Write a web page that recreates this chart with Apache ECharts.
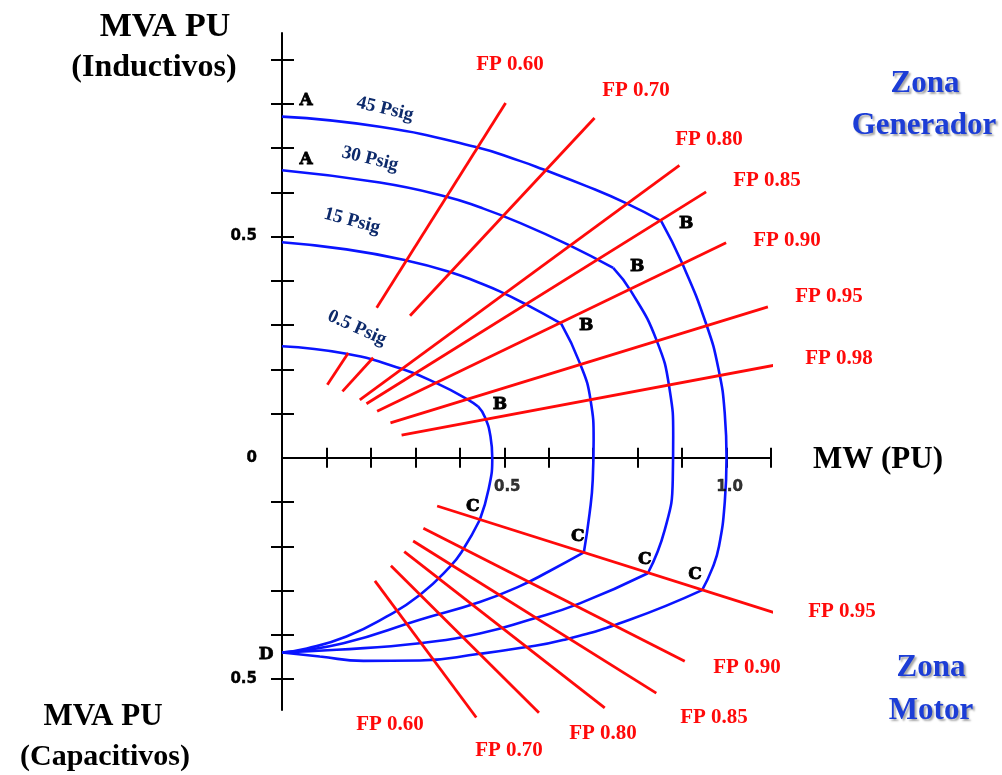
<!DOCTYPE html>
<html><head><meta charset="utf-8">
<script src="https://cdn.jsdelivr.net/npm/echarts@6/dist/echarts.min.js"></script>
<style>html,body{margin:0;padding:0;background:#fff}#c{width:1002px;height:775px}</style>
</head><body><div id="c"></div>
<script>
// ---------- axis ticks and labels ----------
const xTicks = [0.1,0.2,0.3,0.4,0.5,0.6,0.7,0.8,0.9,1.0,1.1];
const xLabels = [0.5, 1.0];
const yTicks = [-0.5,-0.4,-0.3,-0.2,-0.1,0.1,0.2,0.3,0.4,0.5,0.6,0.7,0.8,0.9];
const yLabels = [-0.5, 0, 0.5];

// ---------- capability curves (MW, MVAr in PU) ----------
// 45 Psig
const field45 = [[0,0.771],[0.22,0.748],[0.434,0.703],[0.535,0.671],[0.587,0.652],[0.685,0.614],[0.775,0.575],[0.853,0.535]];
const armature45 = [[0.853,0.535],[0.9,0.44],[0.955,0.3],[0.982,0.2],[0.996,0.1],[1.0,0],[0.996,-0.1],[0.983,-0.2],[0.968,-0.25],[0.945,-0.299]];
const under45 = [[0.945,-0.299],[0.782,-0.366],[0.632,-0.412],[0.535,-0.430],[0.445,-0.443],[0.31,-0.458],[0.183,-0.459],[0.085,-0.449],[0,-0.440]];
// 30 Psig
const field30 = [[0,0.650],[0.22,0.622],[0.37,0.590],[0.445,0.566],[0.535,0.531],[0.647,0.480],[0.745,0.429]];
const armature30 = [[0.745,0.429],[0.786,0.375],[0.842,0.267],[0.872,0.154],[0.880,0.05],[0.879,-0.05],[0.861,-0.163],[0.823,-0.261]];
const under30 = [[0.823,-0.261],[0.670,-0.329],[0.557,-0.366],[0.445,-0.397],[0.31,-0.419],[0.123,-0.434],[0,-0.440]];
// 15 Psig
const field15 = [[0,0.487],[0.145,0.471],[0.28,0.446],[0.381,0.419],[0.445,0.395],[0.49,0.376],[0.55,0.346],[0.628,0.303]];
const armature15 = [[0.628,0.303],[0.670,0.214],[0.694,0.131],[0.701,0.04],[0.699,-0.05],[0.692,-0.125],[0.679,-0.214]];
const under15 = [[0.679,-0.214],[0.6,-0.257],[0.535,-0.29],[0.445,-0.326],[0.31,-0.366],[0.138,-0.419],[0,-0.440]];
// 0.5 Psig
const field05 = [[0,0.252],[0.145,0.235],[0.269,0.201],[0.351,0.167],[0.419,0.131],[0.441,0.116]];
const armature05 = [[0.441,0.116],[0.456,0.093],[0.469,0.048],[0.473,0],[0.465,-0.07],[0.445,-0.140]];
const under05 = [[0.445,-0.140],[0.407,-0.208],[0.378,-0.246],[0.310,-0.310],[0.235,-0.359],[0.145,-0.404],[0.056,-0.431],[0,-0.440]];

// ---------- power factor lines ----------
const genFP60 = [[[0.102,0.165],[0.149,0.237]],[[0.213,0.339],[0.503,0.802]]];
const genFP70 = [[[0.136,0.150],[0.205,0.226]],[[0.288,0.321],[0.703,0.768]]];
const genFP80 = [[[0.175,0.131],[0.894,0.661]]];
const genFP85 = [[[0.190,0.122],[0.954,0.601]]];
const genFP90 = [[[0.214,0.105],[0.999,0.486]]];
const genFP95 = [[[0.244,0.079],[1.093,0.341]]];
const genFP98 = [[[0.269,0.051],[1.112,0.210]]];
const motFP95 = [[[0.349,-0.109],[1.123,-0.355]]];
const motFP90 = [[[0.318,-0.159],[0.906,-0.460]]];
const motFP85 = [[[0.295,-0.188],[0.842,-0.532]]];
const motFP80 = [[[0.275,-0.212],[0.726,-0.565]]];
const motFP70 = [[[0.245,-0.244],[0.578,-0.576]]];
const motFP60 = [[[0.209,-0.278],[0.437,-0.587]]];

// ---------- build ----------
const chart = echarts.init(document.getElementById('c'), null, {renderer:'canvas'});
const BLUE = '#0a14ff', RED = '#ff0a0a';
const series = [];
[field45,armature45,under45,field30,armature30,under30,field15,armature15,under15,field05,armature05,under05].forEach(d=>{
  series.push({type:'line', data:d, smooth:0.5, symbol:'none', clip:false, silent:true, z:3,
    lineStyle:{color:BLUE, width:2.6}});
});
[genFP60,genFP70,genFP80,genFP85,genFP90,genFP95,genFP98,motFP95,motFP90,motFP85,motFP80,motFP70,motFP60].forEach(segs=>{
  segs.forEach(seg=>series.push({type:'line', data:seg, symbol:'none', clip:false, silent:true, z:4,
    lineStyle:{color:RED, width:2.8}}));
});
// point letters tied to curve ends
const pts = [
  {name:'A', value:field45[0], off:[24,-16]},
  {name:'A', value:field30[0], off:[24,-11]},
  {name:'B', value:field45[field45.length-1], off:[25,3]},
  {name:'B', value:field30[field30.length-1], off:[24,-1]},
  {name:'B', value:field15[field15.length-1], off:[25,2]},
  {name:'B', value:field05[field05.length-1], off:[22,-2]},
  {name:'C', value:armature45[armature45.length-1], off:[-7,-16]},
  {name:'C', value:armature30[armature30.length-1], off:[-3,-14]},
  {name:'C', value:armature15[armature15.length-1], off:[-6,-16]},
  {name:'C', value:armature05[armature05.length-1], off:[-7,-13]},
  {name:'D', value:under45[under45.length-1], off:[-16,2]}
];
series.push({type:'scatter', symbolSize:1, silent:true, z:6, clip:false,
  itemStyle:{color:'rgba(0,0,0,0)'},
  data: pts.map(p=>({name:p.name, value:p.value,
    label:{show:true, formatter:'{b}', position:'inside', offset:p.off,
      color:'#000', opacity:1, fontFamily:'DejaVu Serif', fontWeight:'bold', fontSize:17,
      textBorderColor:'#000', textBorderWidth:0.8}}))
});
const axisFont = {fontFamily:'DejaVu Sans', fontWeight:'bold', fontSize:15, color:'#000'};
// x tick labels sitting under the zero line
series.push({type:'scatter', symbolSize:1, silent:true, z:5, clip:false,
  itemStyle:{color:'rgba(0,0,0,0)'},
  data: xLabels.map(v=>({value:[v,0], label:Object.assign({show:true, position:'inside', offset:[3,29],
    formatter:v.toFixed(1), textBorderColor:'#000', textBorderWidth:0.4}, axisFont)}))
});

const serif = '"Liberation Serif","Times New Roman",serif';
function txt(s, x, y, size, color, extra){
  return Object.assign({type:'text', x:x, y:y, silent:true, z:10,
    style:{text:s, fill:color, font:'bold '+size+'px '+serif, align:'center', verticalAlign:'middle'}}, extra||{});
}
const graphics = [
  txt('MVA PU', 165, 27, 34, '#000'),
  txt('(Inductivos)', 154, 68, 32, '#000'),
  txt('MVA PU', 103, 717, 31, '#000'),
  txt('(Capacitivos)', 105, 757, 30, '#000'),
  txt('MW (PU)', 878, 460, 31, '#000'),
  // FP labels generator zone
  txt('FP 0.60', 510, 65, 21, RED),
  txt('FP 0.70', 636, 91, 21, RED),
  txt('FP 0.80', 709, 140, 21, RED),
  txt('FP 0.85', 767, 181, 21, RED),
  txt('FP 0.90', 787, 241, 21, RED),
  txt('FP 0.95', 829, 297, 21, RED),
  txt('FP 0.98', 839, 359, 21, RED),
  // FP labels motor zone
  txt('FP 0.95', 842, 612, 21, RED),
  txt('FP 0.90', 747, 668, 21, RED),
  txt('FP 0.85', 714, 718, 21, RED),
  txt('FP 0.80', 603, 734, 21, RED),
  txt('FP 0.70', 509, 751, 21, RED),
  txt('FP 0.60', 390, 725, 21, RED),
  // pressure labels
  txt('45 Psig', 385, 109, 19, '#0d2a6b', {rotation:-0.23}),
  txt('30 Psig', 370, 159, 19, '#0d2a6b', {rotation:-0.24}),
  txt('15 Psig', 352, 221, 19, '#0d2a6b', {rotation:-0.26}),
  txt('0.5 Psig', 357, 328, 19, '#0d2a6b', {rotation:-0.42})
];
const shadow = {textShadowColor:'rgba(0,0,0,0.35)', textShadowBlur:2, textShadowOffsetX:2, textShadowOffsetY:2};
[['Zona',925,84],['Generador',924,126],['Zona',931,668],['Motor',931,711]].forEach(t=>{
  const g = txt(t[0], t[1], t[2], 31, '#1c3dd6');
  Object.assign(g.style, shadow);
  graphics.push(g);
});

chart.setOption({
  animation:false,
  backgroundColor:'#fff',
  grid:{left:282, right:231, top:33, bottom:65, containLabel:false, outerBoundsMode:'none'},
  xAxis:[
    {type:'value', min:0, max:1.1, position:'bottom',
     axisLine:{show:true, onZero:true, lineStyle:{color:'#000', width:2}},
     axisTick:{show:true, inside:false, length:10, customValues:xTicks, lineStyle:{color:'#000', width:2}},
     axisLabel:{show:false},
     splitLine:{show:false}},
    {type:'value', min:0, max:1.1, position:'bottom',
     axisLine:{show:false, onZero:true},
     axisTick:{show:true, inside:true, length:10, customValues:xTicks, lineStyle:{color:'#000', width:2}},
     axisLabel:{show:false}, splitLine:{show:false}}
  ],
  yAxis:[
    {type:'value', min:-0.57, max:0.96, position:'left',
     axisLine:{show:true, onZero:true, lineStyle:{color:'#000', width:2}},
     axisTick:{show:true, inside:false, length:11, customValues:yTicks, lineStyle:{color:'#000', width:2}},
     axisLabel:Object.assign({show:true, margin:25, customValues:yLabels, textBorderColor:'#000', textBorderWidth:0.4,
       formatter:v=>(v===0?'0':Math.abs(v).toFixed(1))}, axisFont),
     splitLine:{show:false}},
    {type:'value', min:-0.57, max:0.96, position:'left',
     axisLine:{show:false, onZero:true},
     axisTick:{show:true, inside:true, length:12, customValues:yTicks, lineStyle:{color:'#000', width:2}},
     axisLabel:{show:false}, splitLine:{show:false}}
  ],
  series: series,
  graphic: graphics
});
</script>
</body></html>
